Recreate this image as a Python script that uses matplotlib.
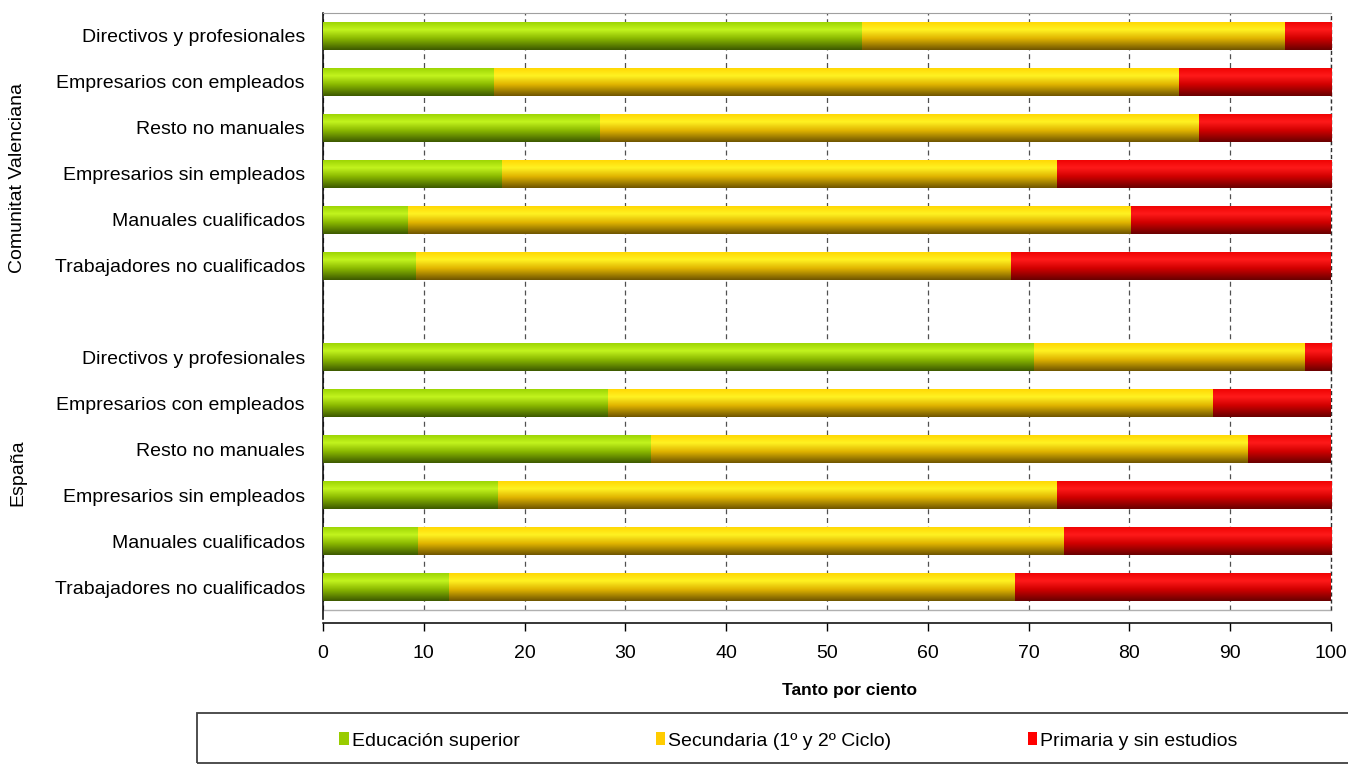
import numpy as np
import matplotlib
matplotlib.use("Agg")
import matplotlib.pyplot as plt
from matplotlib.colors import LinearSegmentedColormap
from matplotlib.patches import Rectangle
import matplotlib.transforms as mtransforms

plt.rcParams['font.family'] = ['Liberation Sans', 'DejaVu Sans']

# datos (tanto por ciento)
categorias = ["Directivos y profesionales", "Empresarios con empleados",
              "Resto no manuales", "Empresarios sin empleados",
              "Manuales cualificados", "Trabajadores no cualificados"]
grupos = ["Comunitat Valenciana", "España"]
series = ["Educación superior", "Secundaria (1º y 2º Ciclo)", "Primaria y sin estudios"]

superior_cv = [53.5, 17.0, 27.5, 17.8, 8.4, 9.2]
secundaria_cv = [41.9, 67.9, 59.4, 55.0, 71.8, 59.1]
primaria_cv = [4.6, 15.1, 13.1, 27.2, 19.8, 31.7]

superior_es = [70.5, 28.3, 32.5, 17.4, 9.4, 12.5]
secundaria_es = [26.9, 60.0, 59.3, 55.4, 64.1, 56.2]
primaria_es = [2.6, 11.7, 8.2, 27.2, 26.5, 31.3]

colores = ["#99cc00", "#ffcc00", "#ff0000"]
gradientes = [
    ["#98d000", "#c2f41e", "#8ab800", "#3c5800"],
    ["#ffd400", "#fff222", "#e0b400", "#6e5400"],
    ["#ee0000", "#ff1a1a", "#d00000", "#680000"],
]

fig = plt.figure(figsize=(13.48, 7.65), dpi=100)
ax = fig.add_axes([323 / 1348, 1 - 610 / 765, (1331 - 323) / 1348, (610 - 13) / 765])

# posiciones: 6 barras, hueco, 6 barras
pos = list(range(6)) + list(range(7, 13))
etiquetas = categorias + categorias
sup = superior_cv + superior_es
sec = secundaria_cv + secundaria_es
pri = primaria_cv + primaria_es

izq = np.zeros(len(pos))
for vals, col, grad, nombre in zip([sup, sec, pri], colores, gradientes, series):
    barras = ax.barh(pos, vals, left=izq, height=0.61, color=col, label=nombre,
                     linewidth=0, zorder=2)
    cmap = LinearSegmentedColormap.from_list("g", list(zip([0, 0.3, 0.6, 1], grad)))
    img = np.linspace(0, 1, 256).reshape(-1, 1)
    for b in barras:
        x0, y0, w, h = b.get_x(), b.get_y(), b.get_width(), b.get_height()
        im = ax.imshow(img, cmap=cmap, aspect='auto', origin='upper',
                       extent=(x0, x0 + w, y0 + h, y0), zorder=3,
                       interpolation='bilinear')
        im.set_clip_path(b)
    izq += np.array(vals)

ax.set_xlim(0, 100)
ax.set_ylim(12.5, -0.5)
ax.set_xticks(range(0, 101, 10))
ax.set_yticks(pos)
ax.set_yticklabels(etiquetas, fontsize=14)
ax.tick_params(axis='y', length=0, pad=13)
ax.tick_params(axis='x', length=6, width=1, pad=10, labelsize=14, direction='out')

ax.xaxis.grid(True, linestyle=(0, (4, 3)), color="#505050", linewidth=0.9, zorder=1)
ax.set_axisbelow(True)

ax.spines['right'].set_visible(False)
ax.spines['top'].set_color("#a0a0a0")
ax.spines['bottom'].set_position(('outward', 9))
ax.spines['bottom'].set_linewidth(1.1)
ax.spines['left'].set_linewidth(1.1)
ax.spines['left'].set_bounds(-0.5, 12.5 + 9 / 45.9)
ax.plot([0, 1], [0, 0], transform=ax.transAxes, color="#b0b0b0", lw=1, clip_on=False)
ax.plot([1, 1], [0, 1], transform=ax.transAxes, color="#303030", lw=1,
        linestyle=(0, (3, 2)), clip_on=False)

# etiquetas de grupo
trans = mtransforms.blended_transform_factory(fig.transFigure, ax.transData)
fig.text(18 / 1348, 3.1, grupos[0], rotation=90, va='center', ha='center',
         fontsize=14, transform=trans)
fig.text(18 / 1348, 9.5, grupos[1], rotation=90, va='center', ha='center',
         fontsize=14, transform=trans)

fig.text(849 / 1348, 1 - 690 / 765, "Tanto por ciento", ha='center', va='center',
         fontsize=12.5, fontweight='bold')

# leyenda
fig.patches.append(Rectangle((197 / 1348, 1 - 763 / 765), 1.2, 50 / 765,
                             transform=fig.transFigure, fill=False,
                             edgecolor="#404040", linewidth=1.3))
fig.legend(loc='center left', bbox_to_anchor=(339 / 1348, 1 - 741 / 765), ncol=3,
           frameon=False, fontsize=14, handlelength=0.5, handleheight=0.6,
           handletextpad=0.15, columnspacing=7.0, borderpad=0, borderaxespad=0)

fig.savefig("out.png", dpi=100)
